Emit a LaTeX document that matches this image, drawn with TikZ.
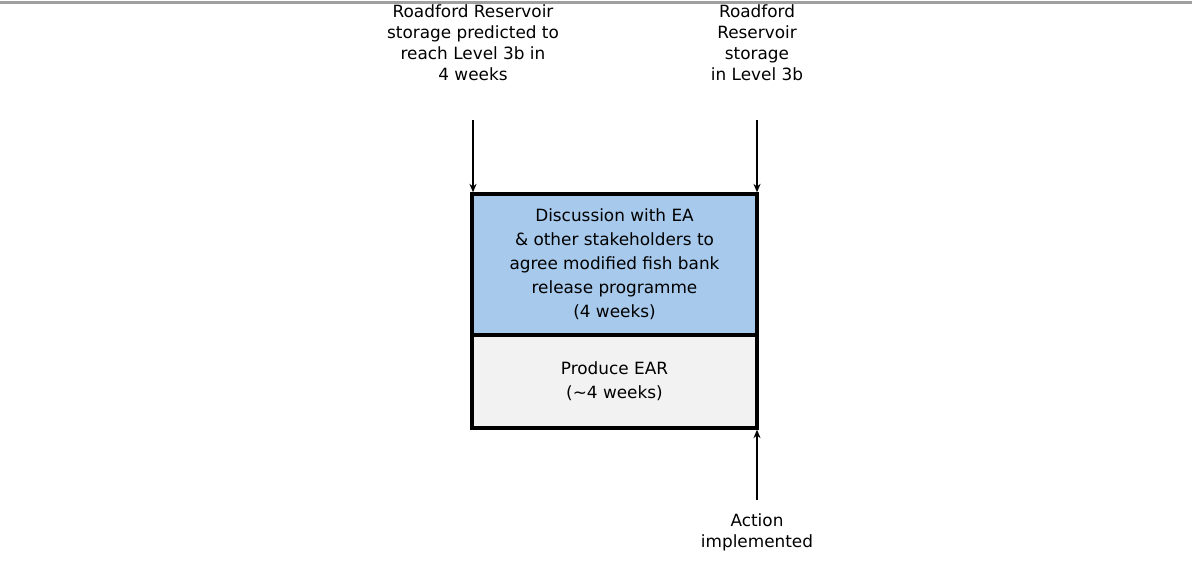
\documentclass[tikz,border=0pt]{standalone}
\usepackage{fontspec}
\setmainfont{DejaVu Sans}
\usetikzlibrary{arrows.meta, positioning, calc}
\definecolor{stageblue}{RGB}{166,201,236}
\definecolor{stagegrey}{RGB}{242,242,242}
\definecolor{rulegrey}{RGB}{160,160,160}
\tikzset{
    stage/.style={
        rectangle, draw=black, line width=2.4pt,
        minimum width=7.125cm, align=center, outer sep=0pt,
        font=\fontsize{12pt}{17pt}\selectfont
    },
    trigger/.style={
        align=center, inner sep=1pt,
        font=\fontsize{12pt}{15pt}\selectfont
    },
    flow/.style={draw=black, line width=1.1pt, shorten >=1.2pt,
        -{Stealth[length=6pt, width=5pt]}}
}

\begin{document}
\begin{tikzpicture}[x=0.025cm, y=-0.025cm]
\useasboundingbox (0,0) rectangle (1192,568);

% Top rule
\coordinate (rule_l) at (0,2.5);
\coordinate (rule_r) at (1192,2.5);
\draw[rulegrey, line width=1.8pt] (rule_l) -- (rule_r);

% Stages
\node[stage, fill=stageblue, minimum height=3.525cm] (discuss) at (614.5,264.5)
    {Discussion with EA\\\& other stakeholders to\\agree modified fish bank\\release programme\\(4 weeks)};
\node[stage, fill=stagegrey, minimum height=2.325cm] (ear) at (614.5,381.5)
    {Produce EAR\\(\textasciitilde4 weeks)};

% Triggers
\node[trigger] (predicted) at (473,43) {Roadford Reservoir\\storage predicted to\\reach Level 3b in\\4 weeks};
\node[trigger] (inlevel) at (757,43) {Roadford\\Reservoir\\storage\\in Level 3b};
\node[trigger] (action) at (757,532) {Action\\implemented};

% Arrow starts
\coordinate (predicted_end) at (473,120);
\coordinate (inlevel_end) at (757,120);
\coordinate (action_end) at (757,500);

% Connections
\draw[flow] (predicted_end) -- (predicted_end |- discuss.north);
\draw[flow] (inlevel_end) -- (inlevel_end |- discuss.north);
\draw[flow] (action_end) -- (action_end |- ear.south);

\end{tikzpicture}
\end{document}
